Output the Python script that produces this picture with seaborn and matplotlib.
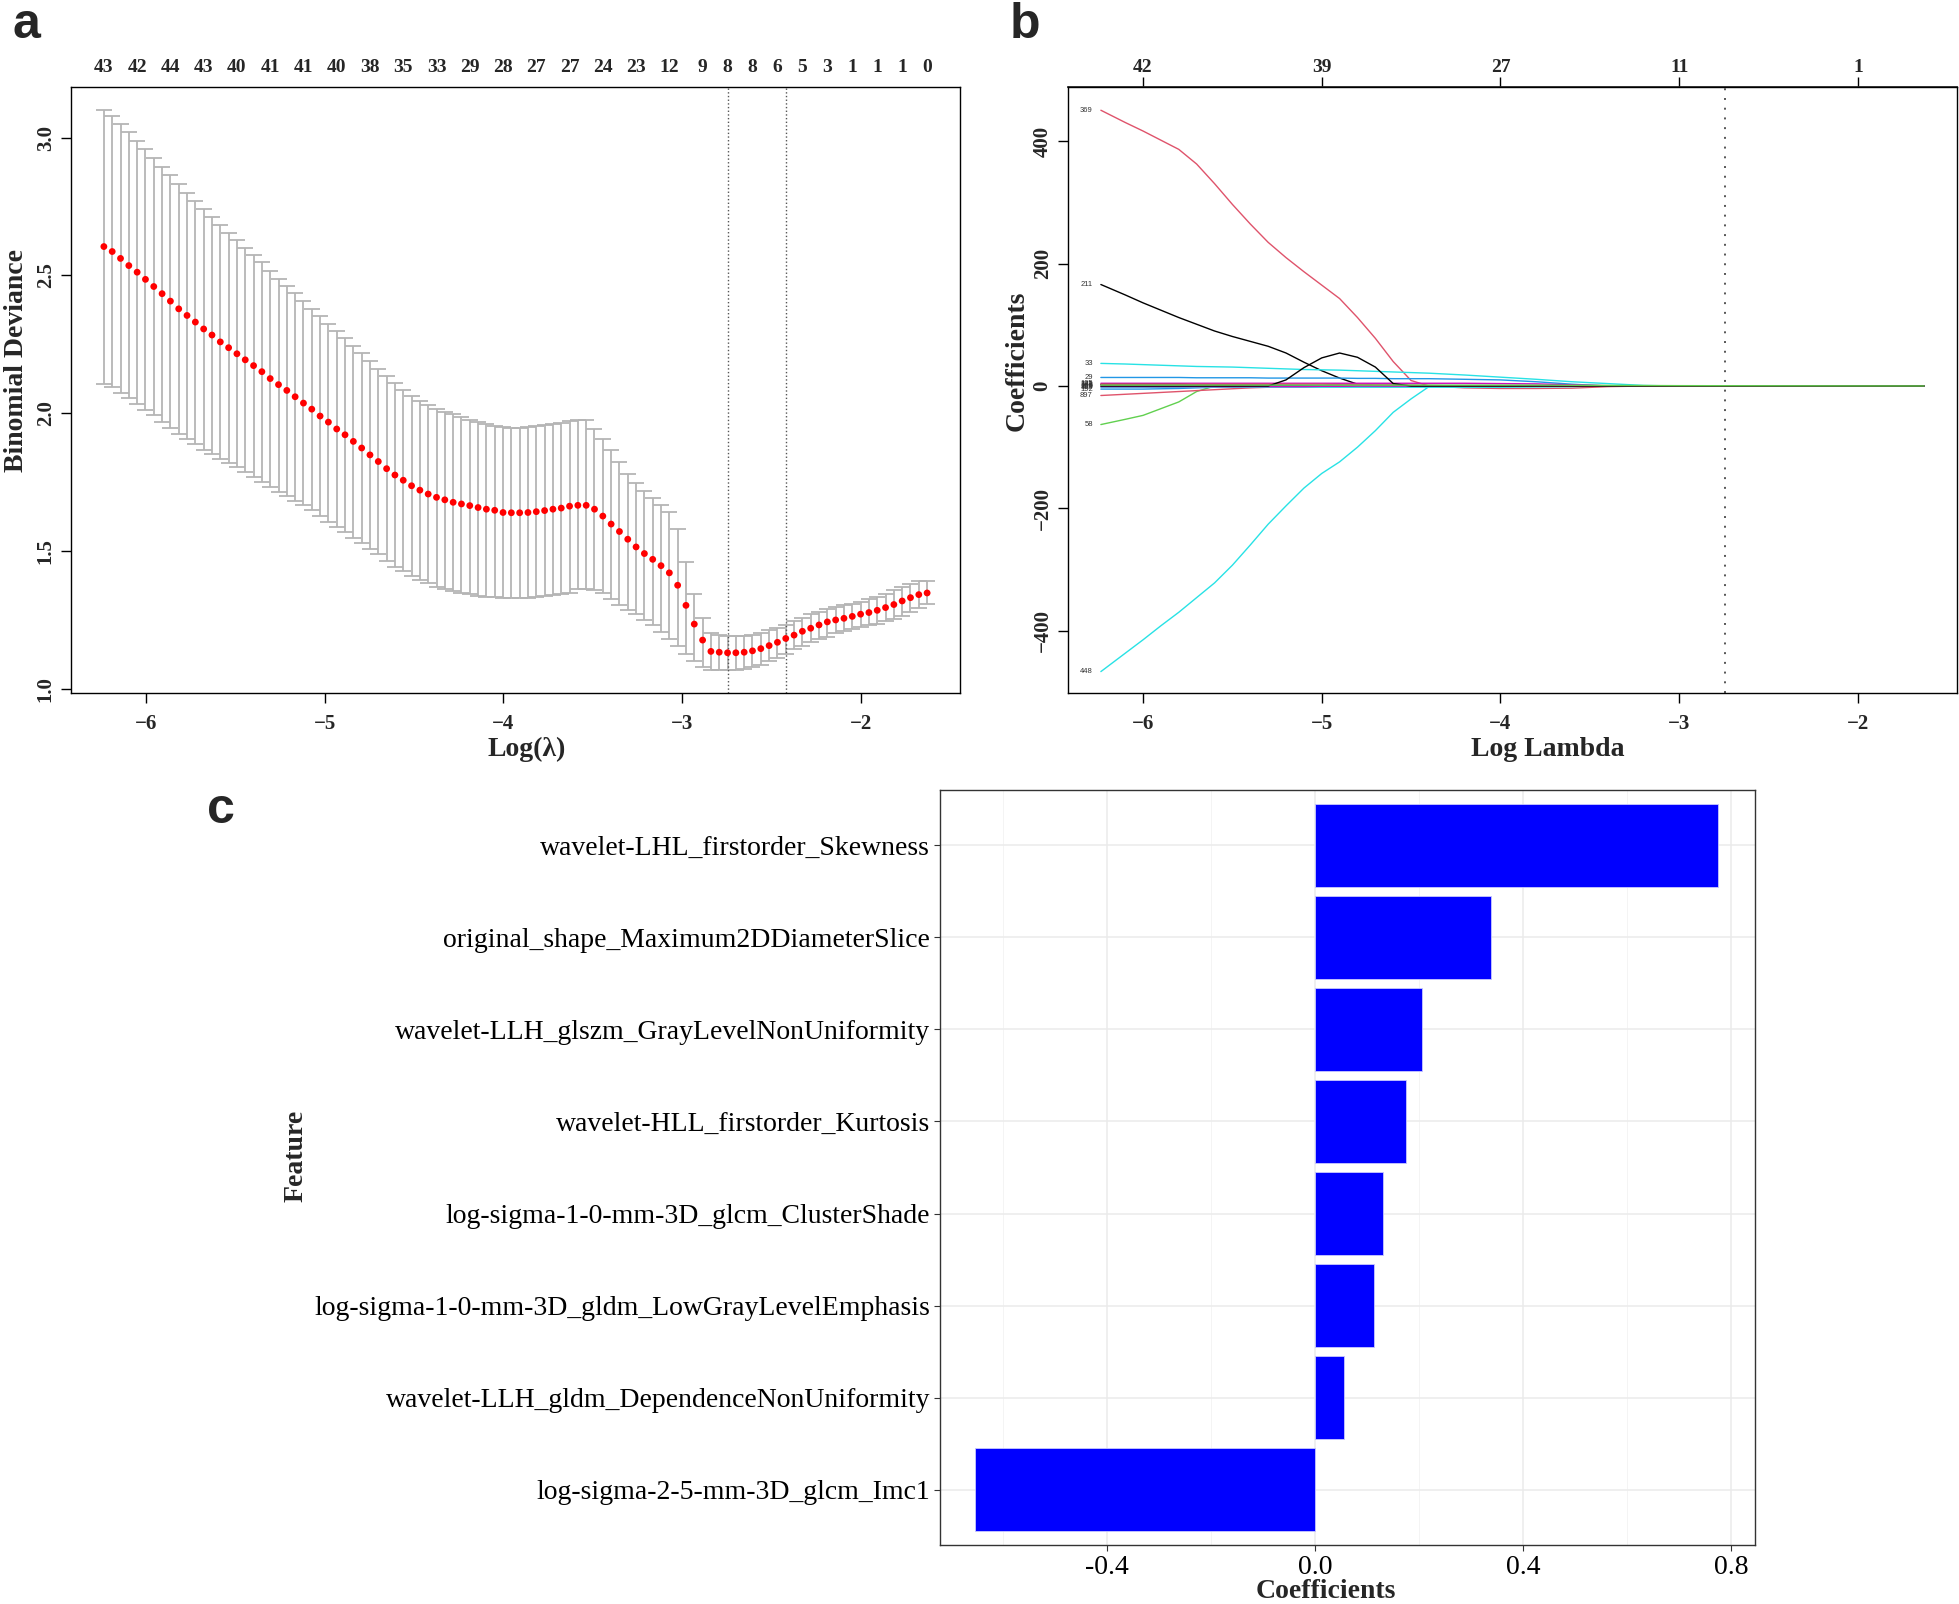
import numpy as np
import pandas as pd
import seaborn as sns
import matplotlib.pyplot as plt
from matplotlib.ticker import FuncFormatter

sns.set_theme(style="white")
plt.rcParams["font.family"] = ["Liberation Serif", "DejaVu Serif"]
plt.rcParams["axes.unicode_minus"] = True

# ---- panel a: cv.glmnet curve, 100 lambdas
log_lambda_a = np.linspace(-6.236, -1.629, 100)

cv_mean = [2.605, 2.587, 2.562, 2.536, 2.512, 2.486, 2.460, 2.434, 2.407, 2.379,
           2.355, 2.331, 2.306, 2.284, 2.259, 2.238, 2.216, 2.194, 2.173, 2.151,
           2.126, 2.104, 2.083, 2.060, 2.037, 2.015, 1.990, 1.968, 1.943, 1.922,
           1.898, 1.874, 1.849, 1.825, 1.799, 1.776, 1.757, 1.737, 1.721, 1.707,
           1.695, 1.686, 1.677, 1.671, 1.665, 1.658, 1.652, 1.648, 1.640, 1.639,
           1.639, 1.640, 1.643, 1.647, 1.652, 1.656, 1.663, 1.666, 1.666, 1.652,
           1.627, 1.598, 1.571, 1.543, 1.515, 1.491, 1.470, 1.447, 1.421, 1.376,
           1.303, 1.235, 1.177, 1.136, 1.133, 1.131, 1.131, 1.133, 1.138, 1.146,
           1.157, 1.169, 1.183, 1.195, 1.209, 1.220, 1.232, 1.243, 1.250, 1.256,
           1.263, 1.271, 1.277, 1.285, 1.295, 1.306, 1.319, 1.331, 1.342, 1.348]

cv_upper = [3.102, 3.078, 3.050, 3.019, 2.989, 2.959, 2.927, 2.895, 2.864, 2.831,
            2.801, 2.771, 2.741, 2.712, 2.684, 2.655, 2.627, 2.600, 2.574, 2.548,
            2.517, 2.489, 2.462, 2.436, 2.408, 2.379, 2.352, 2.324, 2.298, 2.274,
            2.245, 2.219, 2.190, 2.162, 2.136, 2.110, 2.086, 2.063, 2.045, 2.031,
            2.016, 2.006, 1.997, 1.985, 1.976, 1.968, 1.961, 1.955, 1.951, 1.948,
            1.948, 1.950, 1.953, 1.958, 1.961, 1.966, 1.971, 1.974, 1.974, 1.943,
            1.906, 1.865, 1.823, 1.781, 1.747, 1.718, 1.692, 1.668, 1.643, 1.579,
            1.459, 1.344, 1.258, 1.203, 1.196, 1.193, 1.191, 1.191, 1.194, 1.203,
            1.212, 1.222, 1.233, 1.246, 1.258, 1.271, 1.280, 1.290, 1.297, 1.303,
            1.308, 1.316, 1.326, 1.334, 1.345, 1.357, 1.370, 1.381, 1.391, 1.392]

cv_lower = [2.105, 2.094, 2.073, 2.055, 2.032, 2.013, 1.992, 1.969, 1.948, 1.925,
            1.906, 1.888, 1.867, 1.852, 1.833, 1.818, 1.804, 1.786, 1.768, 1.752,
            1.733, 1.715, 1.700, 1.682, 1.666, 1.648, 1.627, 1.606, 1.588, 1.569,
            1.549, 1.528, 1.507, 1.488, 1.464, 1.444, 1.426, 1.408, 1.394, 1.383,
            1.371, 1.363, 1.355, 1.348, 1.344, 1.337, 1.334, 1.332, 1.331, 1.331,
            1.329, 1.331, 1.332, 1.336, 1.339, 1.344, 1.348, 1.361, 1.361, 1.358,
            1.348, 1.326, 1.306, 1.287, 1.271, 1.251, 1.232, 1.206, 1.180, 1.154,
            1.125, 1.101, 1.079, 1.067, 1.067, 1.067, 1.070, 1.073, 1.079, 1.088,
            1.101, 1.112, 1.128, 1.143, 1.157, 1.169, 1.180, 1.190, 1.201, 1.209,
            1.216, 1.224, 1.230, 1.237, 1.245, 1.254, 1.266, 1.279, 1.295, 1.308]

nzero_labels = [43, 42, 44, 43, 40, 41, 41, 40, 38, 35, 33, 29, 28, 27, 27, 24, 23, 12,
                9, 8, 8, 6, 5, 3, 1, 1, 1, 0]
nzero_idx = [0, 4, 8, 12, 16, 20, 24, 28, 32, 36, 40, 44, 48, 52, 56, 60, 64, 68,
             72, 75, 78, 81, 84, 87, 90, 93, 96, 99]
lambda_min = -2.743
lambda_1se = -2.419

# ---- panel b: coefficient paths, read on a log-lambda grid
path_grid = [-6.236, -6.1, -6.0, -5.9, -5.8, -5.7, -5.6, -5.5, -5.4, -5.3, -5.2, -5.1,
             -5.0, -4.9, -4.8, -4.7, -4.6, -4.5, -4.4, -4.2, -4.0, -3.8, -3.6, -3.4,
             -3.2, -3.0, -2.5, -2.0, -1.629]
coef_369 = [451, 431, 417, 402, 387, 363, 331, 297, 265, 235, 210, 187, 165, 143, 112, 78,
            40, 9, 0, 0, 0, 0, 0, 0, 0, 0, 0, 0, 0]
coef_211 = [166, 149, 136, 124, 112, 101, 90, 81, 73, 65, 54, 39, 25, 13, 3, 0, 0, 0, 0,
            0, 0, 0, 0, 0, 0, 0, 0, 0, 0]
coef_265 = [0, 0, 0, 0, 0, 0, 0, 0, 0, 0, 10, 30, 46, 54, 47, 31, 4, 0, 0, 0, 0, 0, 0, 0,
            0, 0, 0, 0, 0]
coef_448 = [-467, -437, -415, -392, -370, -346, -322, -293, -260, -226, -196, -167, -143,
            -124, -100, -73, -43, -21, -1, 0, 0, 0, 0, 0, 0, 0, 0, 0, 0]
coef_33 = [37, 36, 35, 34, 33, 32, 31.5, 31, 30, 29, 28, 27, 26.5, 26, 25, 24, 23, 22, 21,
           18, 14.5, 11, 7, 4, 1, 0, 0, 0, 0]
coef_29 = [14, 14, 14, 14, 14, 13.5, 13.5, 13.5, 13.5, 13, 13, 13, 13, 13, 12.5, 12.5, 12,
           12, 12, 11, 10, 7, 3, 0, 0, 0, 0, 0, 0]
coef_897 = [-15.5, -13.5, -12, -10.5, -9, -7.5, -6, -4.5, -3, -2, -1.5, -1, -0.5, 0, 0, 0,
            0, 0, 0, -3, -4, -4, -3.5, -1, 0, 0, 0, 0, 0]
coef_58 = [-63, -54.5, -48, -37, -26, -9, 0, 0, 0, 0, 0, 0, 0, 0, 0, 0, 0, 0, 0, 0, 0, 0,
           0, 0, 0, 0, 0, 0, 0]
coef_105 = [4.5, 4.5, 4.5, 4.5, 4.5, 4.5, 4.5, 4.5, 4.5, 4.5, 4.5, 4.5, 4.5, 4.5, 4.5, 4.5,
            4.5, 4.5, 4.5, 4.5, 4, 3.5, 2, 0.5, 0, 0, 0, 0, 0]
coef_141 = [2.5, 2.5, 2.5, 2.5, 2.5, 2, 2, 2, 2, 1.5, 1, 0.5, 0, 0, 0, 0, 0, 0, 0, 0, 0, 0,
            0, 0, 0, 0, 0, 0, 0]
coef_173 = [3, 3, 3, 3, 3, 3, 3, 3, 3, 3, 3, 3, 3, 2.5, 2.5, 2, 2, 1.5, 1, 0, 0, 0, 0, 0,
            0, 0, 0, 0, 0]
coef_192 = [-5, -5, -5, -4.5, -4, -3, -2, -1, 0, 0, 0, 0, 0, 0, 0, 0, 0, 0, 0, 0, 0, 0, 0,
            0, 0, 0, 0, 0, 0]
coef_113 = [-2, -2, -2, -2, -2, -2, -2, -2, -2, -2, -2, -2, -2, -2, -2, -2, -2, -2, -2, -2,
            -2, -1.5, -1, 0, 0, 0, 0, 0, 0]
coef_186 = [-1, -1, -1, -1, -1, -1, -1, -1, -1, -1, -1, -1, -0.5, -0.5, 0, 0, 0, 0, 0, 0,
            0, 0, 0, 0, 0, 0, 0, 0, 0]
coef_160 = [1.5, 1.5, 1.5, 1.5, 1.5, 1.5, 1.5, 1.5, 1.5, 1.5, 1.5, 1.5, 1.5, 1.5, 1.5, 1.5,
            1.5, 1.5, 1.5, 1.5, 1.5, 1.5, 1.2, 1, 0.8, 0.6, 0.4, 0.2, 0.1]

path_names = ["211", "369", "58", "29", "33", "105", "141", "897", "192", "448", "113",
              "186", "173", "265", "160"]
path_values = [coef_211, coef_369, coef_58, coef_29, coef_33, coef_105, coef_141, coef_897,
               coef_192, coef_448, coef_113, coef_186, coef_173, coef_265, coef_160]
path_colors = ["black", "#DF536B", "#61D04F", "#2297E6", "#28E2E5", "#CD0BBC", "black",
               "#DF536B", "#2297E6", "#28E2E5", "#28E2E5", "#CD0BBC", "#DF536B", "black",
               "#61D04F"]
top_b_ticks = [-6, -5, -4, -3, -2]
top_b_labels = ["42", "39", "27", "11", "1"]

# ---- panel c: selected features
features = ["wavelet-LHL_firstorder_Skewness",
            "original_shape_Maximum2DDiameterSlice",
            "wavelet-LLH_glszm_GrayLevelNonUniformity",
            "wavelet-HLL_firstorder_Kurtosis",
            "log-sigma-1-0-mm-3D_glcm_ClusterShade",
            "log-sigma-1-0-mm-3D_gldm_LowGrayLevelEmphasis",
            "wavelet-LLH_gldm_DependenceNonUniformity",
            "log-sigma-2-5-mm-3D_glcm_Imc1"]
coefs = [0.774, 0.338, 0.205, 0.175, 0.130, 0.113, 0.056, -0.655]

W, H = 1959, 1604
fig = plt.figure(figsize=(W / 100, H / 100), dpi=100)


def frac(left, top, right, bottom):
    return [left / W, 1 - bottom / H, (right - left) / W, (bottom - top) / H]


ax_a = fig.add_axes(frac(71, 87, 960, 693))
ax_b = fig.add_axes(frac(1068, 87, 1957, 693))
ax_c = fig.add_axes(frac(940, 790, 1755, 1545))

tick_fs = 15
lab_fs = 20


def r_style(ax):
    for s in ax.spines.values():
        s.set_color("black")
        s.set_linewidth(1.0)
    ax.tick_params(axis="both", direction="out", length=7, width=1, color="black",
                   labelsize=tick_fs, bottom=True, left=True)
    ax.tick_params(axis="x", pad=8)
    ax.tick_params(axis="y", pad=4, labelrotation=90)
    for lbl in ax.get_xticklabels() + ax.get_yticklabels():
        lbl.set_fontweight("bold")
    for lbl in ax.get_yticklabels():
        lbl.set_va("center")


# ---- a
mean_arr = np.array(cv_mean)
ax_a.errorbar(log_lambda_a, mean_arr,
              yerr=[mean_arr - np.array(cv_lower), np.array(cv_upper) - mean_arr],
              fmt="none", ecolor="#b5b5b5", elinewidth=1.3, capsize=6, capthick=1.3)
sns.scatterplot(x=log_lambda_a, y=mean_arr, color="red", s=24, edgecolor="none",
                ax=ax_a, zorder=3)
ax_a.axvline(lambda_min, color="#555555", ls=":", lw=1)
ax_a.axvline(lambda_1se, color="#555555", ls=":", lw=1)
ax_a.set_xlim(-6.42, -1.445)
ax_a.set_ylim(0.985, 3.184)
ax_a.set_xticks([-6, -5, -4, -3, -2])
ax_a.set_yticks([1.0, 1.5, 2.0, 2.5, 3.0])
ax_a.set_yticklabels(["1.0", "1.5", "2.0", "2.5", "3.0"])
r_style(ax_a)
ax_a.set_xlabel("Log(λ)", fontsize=lab_fs, fontweight="bold")
ax_a.set_ylabel("Binomial Deviance", fontsize=lab_fs, fontweight="bold")
ax_a.xaxis.set_label_coords(0.513, -0.072)
ax_a.yaxis.set_label_coords(-0.047, 0.548)
top_a = ax_a.secondary_xaxis("top")
top_a.set_xticks(log_lambda_a[nzero_idx])
top_a.set_xticklabels([str(v) for v in nzero_labels], fontsize=14, fontweight="bold")
top_a.tick_params(length=0, pad=8)
top_a.spines["top"].set_visible(False)

# ---- b
rows = []
for name, vals in zip(path_names, path_values):
    for xg, v in zip(path_grid, vals):
        rows.append({"log_lambda": xg, "coef": v, "var": name})
paths = pd.DataFrame(rows)
sns.lineplot(data=paths, x="log_lambda", y="coef", hue="var", hue_order=path_names,
             palette=dict(zip(path_names, path_colors)), estimator=None, sort=False,
             legend=False, lw=1.0, ax=ax_b)
for name, vals in zip(path_names, path_values):
    ax_b.text(path_grid[0] - 0.045, vals[0], name, ha="right", va="center", fontsize=5.5,
              family="Liberation Sans", color="#333333")
ax_b.axvline(lambda_min, color="#555555", ls=(0, (1, 4)), lw=1.4)
ax_b.set_xlim(-6.42, -1.445)
ax_b.set_ylim(-502, 489)
ax_b.set_xticks([-6, -5, -4, -3, -2])
ax_b.set_yticks([-400, -200, 0, 200, 400])
r_style(ax_b)
ax_b.set_xlabel("Log Lambda", fontsize=lab_fs, fontweight="bold")
ax_b.set_ylabel("Coefficients", fontsize=lab_fs, fontweight="bold")
ax_b.xaxis.set_label_coords(0.540, -0.072)
ax_b.yaxis.set_label_coords(-0.043, 0.548)
top_b = ax_b.secondary_xaxis("top")
top_b.set_xticks(top_b_ticks)
top_b.set_xticklabels(top_b_labels, fontsize=14, fontweight="bold")
top_b.tick_params(direction="out", length=7, width=1, color="black", pad=1)

# ---- c
sns.barplot(x=coefs, y=features, orient="h", color="#0000FF", saturation=1, width=0.9,
            edgecolor="#c8c8ff", linewidth=0.6, ax=ax_c, zorder=2)
ax_c.set_xlim(-0.722, 0.846)
ax_c.set_ylim(len(features) - 0.4, -0.6)
ax_c.set_xticks([-0.4, 0.0, 0.4, 0.8])
ax_c.set_xticks([-0.6, -0.2, 0.2, 0.6], minor=True)
ax_c.xaxis.set_major_formatter(FuncFormatter(lambda v, p: f"{v:.1f}".replace("−", "-")))
ax_c.set_axisbelow(True)
ax_c.grid(True, which="major", color="#ebebeb", lw=1.1)
ax_c.grid(True, which="minor", axis="x", color="#f2f2f2", lw=0.6)
for s in ax_c.spines.values():
    s.set_color("#333333")
    s.set_linewidth(1.0)
ax_c.tick_params(axis="both", which="major", direction="out", length=4, width=0.8,
                 color="#333333", labelsize=20, labelcolor="black", pad=3,
                 bottom=True, left=True)
ax_c.tick_params(axis="x", which="minor", length=0)
ax_c.set_xlabel("Coefficients", fontsize=lab_fs, fontweight="bold")
ax_c.set_ylabel("Feature", fontsize=lab_fs, fontweight="bold")
ax_c.xaxis.set_label_coords(0.474, -0.045)
ax_c.yaxis.set_label_coords(-0.775, 0.515)

# panel letters
fig.text(12 / W, 1 - 38 / H, "a", fontsize=36, fontweight="bold", family="Liberation Sans")
fig.text(1010 / W, 1 - 38 / H, "b", fontsize=36, fontweight="bold", family="Liberation Sans")
fig.text(207 / W, 1 - 823 / H, "c", fontsize=36, fontweight="bold", family="Liberation Sans")

fig.savefig("out.png", dpi=100)
